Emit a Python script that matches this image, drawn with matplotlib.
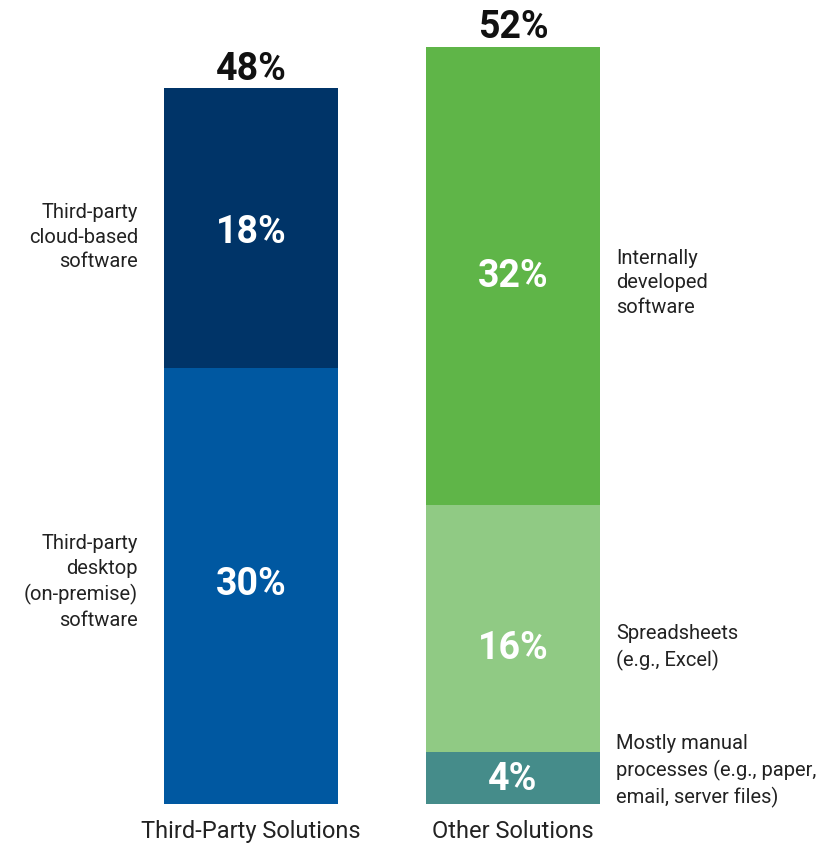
import matplotlib
matplotlib.use("Agg")
import matplotlib.pyplot as plt
import numpy as np

plt.rcParams['font.family'] = ['Roboto', 'DejaVu Sans']

categories = ["Third-Party Solutions", "Other Solutions"]
# segment values (bottom to top)
left_values = [29.6, 19.0]
left_labels = ["30%", "18%"]
left_names = ["Third-party\ndesktop\n(on-premise)\nsoftware", "Third-party\ncloud-based\nsoftware"]
left_colors = ["#0058A1", "#003468"]

right_values = [3.5, 16.8, 31.1]
right_labels = ["4%", "16%", "32%"]
right_names = ["Mostly manual\nprocesses (e.g., paper,\nemail, server files)",
               "Spreadsheets\n(e.g., Excel)",
               "Internally\ndeveloped\nsoftware"]
right_colors = ["#458C8A", "#90CA84", "#5FB548"]

totals = ["48%", "52%"]

W, H = 840, 845
fig = plt.figure(figsize=(W / 100, H / 100), dpi=100)
ax = fig.add_axes([0, 40 / H, 1, 805 / H])

px = 262.0  # px per category unit
x0 = 251.0
ax.set_xlim(-x0 / px, (W - x0) / px)
ppu = 14.73
ax.set_ylim(0, 805 / ppu)
bw = 174 / px

def stack(xpos, values, labels, names, colors, side, offsets):
    bottom = 0
    for v, lab, name, c, off in zip(values, labels, names, colors, offsets):
        ax.bar(xpos, v, bw, bottom=bottom, color=c, linewidth=0)
        cy = bottom + v / 2
        ax.text(xpos, cy + off[0], lab, ha="center", va="center", color="white",
                fontsize=27, fontweight="bold")
        if side == "left":
            ax.text(xpos - 113 / px, cy + off[1], name, ha="right", va="center",
                    fontsize=14.5, color="#222222", linespacing=1.38)
        else:
            ax.text(xpos + 103 / px, cy + off[1], name, ha="left", va="center",
                    fontsize=14.5, color="#222222", linespacing=1.38)
        bottom += v
    return bottom

tl = stack(0, left_values, left_labels, left_names, left_colors, "left",
           [(0.2, 0.35), (-0.2, -0.55)])
tr = stack(1, right_values, right_labels, right_names, right_colors, "right",
           [(0.0, 0.55), (-1.3, -1.2), (0.0, -0.4)])

for xpos, top, t in zip([0, 1], [tl, tr], totals):
    ax.text(xpos, top + 0.1, t, ha="center", va="bottom", fontsize=27,
            fontweight="bold", color="#111111")

ax.set_xticks([0, 1])
ax.set_xticklabels(categories, fontsize=17, color="#222222")
ax.tick_params(axis="x", length=0, pad=11)
ax.set_yticks([])
for s in ax.spines.values():
    s.set_visible(False)

fig.savefig("out.png", dpi=100)
